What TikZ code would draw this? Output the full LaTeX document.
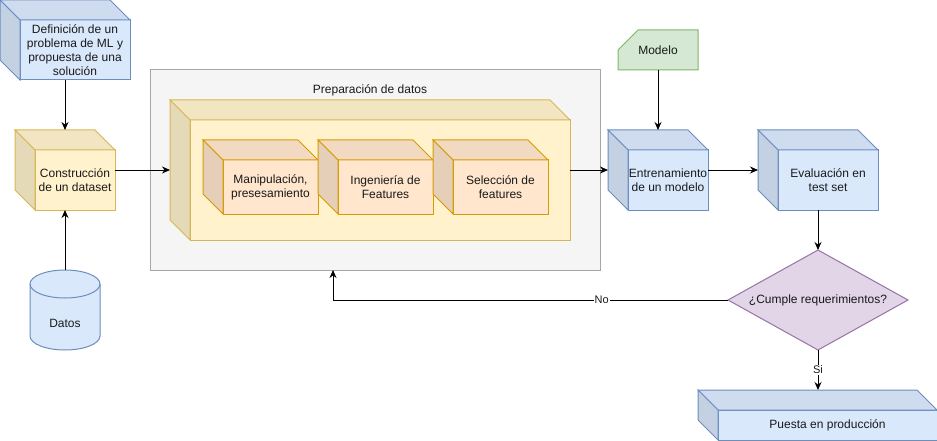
\documentclass[tikz,border=0pt]{standalone}
\usepackage{fontspec}
\setmainfont{Liberation Sans}
\usetikzlibrary{arrows.meta,shapes.geometric}

\definecolor{bluefill}{HTML}{DAE8FC}
\definecolor{blueline}{HTML}{6C8EBF}
\definecolor{yelfill}{HTML}{FFF2CC}
\definecolor{yelline}{HTML}{D6B656}
\definecolor{orfill}{HTML}{FFE6CC}
\definecolor{orline}{HTML}{D79B00}
\definecolor{grnfill}{HTML}{D5E8D4}
\definecolor{grnline}{HTML}{82B366}
\definecolor{purfill}{HTML}{E1D5E7}
\definecolor{purline}{HTML}{9673A6}
\definecolor{grayfill}{HTML}{F5F5F5}
\definecolor{grayline}{HTML}{A6A6A6}
\definecolor{txt}{HTML}{1A1A1A}

\tikzset{
  front/.style={draw=#1line, fill=#1fill, line width=1pt, outer sep=0pt, inner sep=0pt, align=center, text=txt},
  arr/.style={-{Stealth[length=8pt,width=7pt]}, line width=1pt},
  edgelbl/.style={fill=white, inner sep=1pt, text=txt, font=\fontsize{11}{13}\selectfont},
}

% top and left faces of a box, drawn round its front node
\newcommand{\cubesides}[2]{%
  \filldraw[fill=#2fill!95!black, draw=#2line, line width=1pt] (#1.north west) -- ++(-20,-20) -- ([shift={(-20,-20)}]#1.north east) -- (#1.north east) -- cycle;
  \filldraw[fill=#2fill!90!black, draw=#2line, line width=1pt] (#1.north west) -- ++(-20,-20) -- ([shift={(-20,-20)}]#1.south west) -- (#1.south west) -- cycle;
}

\begin{document}
\begin{tikzpicture}[x=1pt, y=-1pt, font=\fontsize{12}{14}\selectfont]
        \useasboundingbox (0,0) rectangle (937,441);
        % Left column
        \node[front=blue, minimum width=110pt, minimum height=60pt] (problema) at (75,50) {Definición de un\\problema de ML y\\propuesta de una\\solución};
        \cubesides{problema}{blue}
        \node[front=yel, minimum width=80pt, minimum height=60pt] (dataset) at (75,180) {Construcción\\de un dataset};
        \cubesides{dataset}{yel}
        % Data cylinder
        \filldraw[fill=bluefill, draw=blueline, line width=1pt] (30,284) -- (30,336) arc[start angle=180, end angle=360, x radius=35pt, y radius=14pt] -- (100,284) arc[start angle=0, end angle=180, x radius=35pt, y radius=14pt] -- cycle;
        \draw[blueline, line width=1pt] (30,284) arc[start angle=180, end angle=360, x radius=35pt, y radius=14pt];
        \node[minimum width=70pt, minimum height=80pt, inner sep=0pt, outer sep=0pt, label={[text=txt, yshift=-13pt]center:Datos}] (datos) at (65,310) {};
        % Preparation group
        \node[draw=grayline, fill=grayfill, line width=1pt, minimum width=450pt, minimum height=200pt, outer sep=0pt] (prep) at (375,170) {};
        \node[text=txt] (preptitulo) at (370,90) {Preparación de datos};
        \node[front=yel, minimum width=380pt, minimum height=120pt] (bloque) at (380,180) {};
        \cubesides{bloque}{yel}
        \node[front=or, minimum width=95pt, minimum height=54pt] (manip) at (270.5,187) {Manipulación,\\presesamiento};
        \cubesides{manip}{or}
        \node[front=or, minimum width=95pt, minimum height=54pt] (ingen) at (385.5,187) {Ingeniería de\\Features};
        \cubesides{ingen}{or}
        \node[front=or, minimum width=95pt, minimum height=54pt] (selec) at (500.5,187) {Selección de\\features};
        \cubesides{selec}{or}
        % Model and training
        \filldraw[fill=grnfill, draw=grnline, line width=1pt] (638,30) -- (698,30) -- (698,70) -- (618,70) -- (618,50) -- cycle;
        \node[minimum width=80pt, minimum height=40pt, outer sep=0pt, text=txt] (modelo) at (658,50) {Modelo};
        \node[front=blue, minimum width=80pt, minimum height=60pt] (entrena) at (668,180) {Entrenamiento\\de un modelo};
        \cubesides{entrena}{blue}
        \node[front=blue, minimum width=100pt, minimum height=60pt] (evalua) at (828,180) {Evaluación en\\test set};
        \cubesides{evalua}{blue}
        % Decision and output
        \node[diamond, aspect=1.8, draw=purline, fill=purfill, line width=1pt, minimum width=180pt, minimum height=100pt, inner sep=0pt, outer sep=0pt, text=txt] (cumple) at (818,300) {¿Cumple requerimientos?};
        \node[front=blue, minimum width=219pt, minimum height=30pt] (puesta) at (827.5,425) {Puesta en producción};
        \cubesides{puesta}{blue}
        % Arrows
        \draw[arr] ([shift={(-10,0)}]problema.south) -- ([shift={(-10,-20)}]dataset.north);
        \draw[arr] (datos.north) -- ([shift={(-10,0)}]dataset.south);
        \draw[arr] ([shift={(0,-10)}]dataset.east) -- ([shift={(-20,-10)}]bloque.west);
        \draw[arr] ([shift={(0,-10)}]bloque.east) -- ([shift={(-20,-10)}]entrena.west);
        \draw[arr] (modelo.south) -- ([shift={(-10,-20)}]entrena.north);
        \draw[arr] ([shift={(0,-10)}]entrena.east) -- ([shift={(-20,-10)}]evalua.west);
        \draw[arr] ([shift={(-10,0)}]evalua.south) -- (cumple.north);
        \draw[arr] (cumple.west) -| node[edgelbl, pos=0.16] {No} ([shift={(-42,0)}]prep.south);
        \draw[arr] (cumple.south) -- node[edgelbl] {Si} ([shift={(-9.5,-20)}]puesta.north);
\end{tikzpicture}
\end{document}
